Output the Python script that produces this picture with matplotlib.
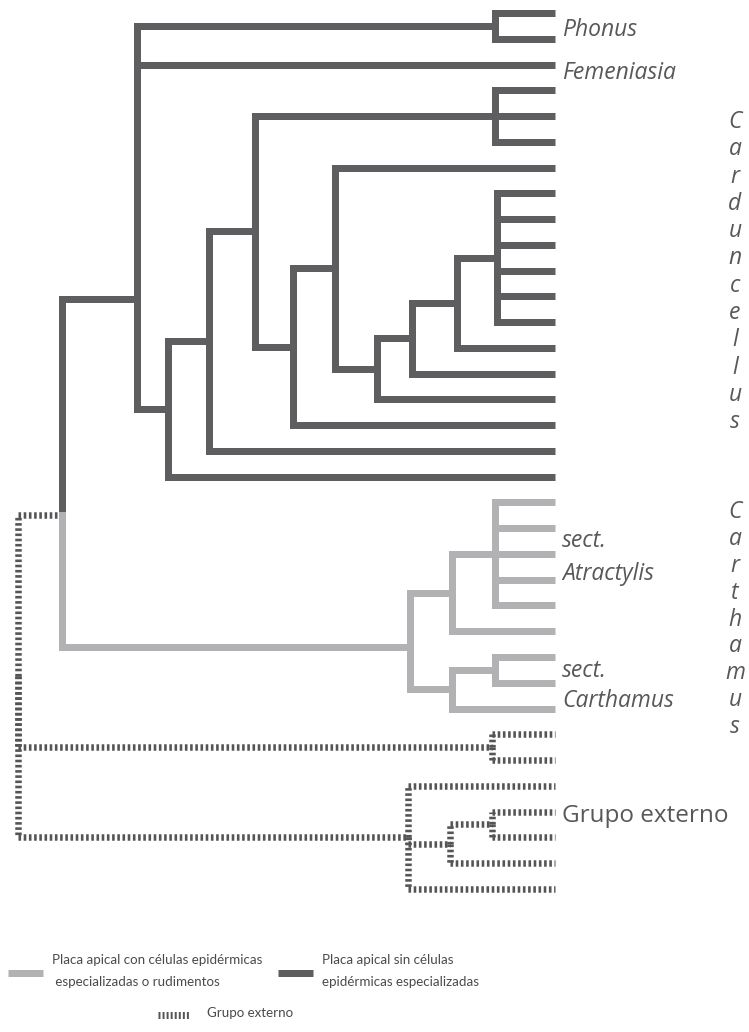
import matplotlib.pyplot as plt

W, H = 749, 1032
TOP, STEP = 13, 25.76          # pixel row of tip 0 and row spacing
TIP_X = 555                    # all tips end here

# internal nodes: name -> (depth from the left edge, children)
# a child is a tip index (int) or another node (str)
nodes = {
    'root': (18, ['R', 'S', 'T']),
    'R': (62, ['A', 'M']),
    # Phonus + Femeniasia + Carduncellus
    'A': (137, ['Ph', 2, 'B']),
    'Ph': (495, [0, 1]),
    'B': (168, ['C', 18]),
    'C': (209, ['D', 17]),
    'D': (255, ['E', 'F']),
    'E': (495, [3, 4, 5]),
    'F': (293, ['H', 16]),
    'H': (335, [6, 'I']),
    'I': (377, ['J', 15]),
    'J': (412, ['K', 14]),
    'K': (457, ['L', 13]),
    'L': (497, [7, 8, 9, 10, 11, 12]),
    # Carthamus
    'M': (410, ['N', 'O']),
    'N': (452, ['P', 24]),
    'P': (495, [19, 20, 21, 22, 23]),
    'O': (452, ['Q', 27]),
    'Q': (495, [25, 26]),
    # outgroup
    'S': (492, [28, 29]),
    'T': (408, [30, 'U', 34]),
    'U': (450, ['V', 33]),
    'V': (492, [31, 32]),
}
# nodes whose stem does not leave from the middle of their span
join_y = {'R': 19.5, 'A': 11.1, 'M': 24.6}

dark_tips = range(0, 19)
light_tips = range(19, 28)
out_tips = range(28, 35)
light_nodes = ['M', 'N', 'O', 'P', 'Q']
out_nodes = ['R', 'S', 'T', 'U', 'V']

# tip labels: (text, baseline in tip rows, italic)
labels = [
    ('Phonus', 0.89, True),
    ('Femeniasia', 2.56, True),
    ('sect.', 20.73, True),
    ('Atractylis', 22.0, True),
    ('sect.', 25.78, True),
    ('Carthamus', 26.94, True),
    ('Grupo externo', 31.4, False),
]
genus_labels = [('Carduncellus', 128, 27.3), ('Carthamus', 518, 26.9)]

legend_items = [
    ('light', 'Placa apical con células epidérmicas\n especializadas o rudimentos'),
    ('dark', 'Placa apical sin células\nepidérmicas especializadas'),
    ('out', 'Grupo externo'),
]

DARK = '#5e5e61'
LIGHT = '#b2b2b4'
OUT = '#555557'
TXT = '#58585a'
px = 72 / 100
styles = {
    'dark': dict(color=DARK, lw=7 * px, solid_capstyle='butt'),
    'light': dict(color=LIGHT, lw=7 * px, solid_capstyle='butt'),
    'out': dict(color=OUT, lw=6.5 * px, linestyle=(0, (0.4, 0.4)),
                dash_capstyle='butt'),
}


def group(n):
    if isinstance(n, int):
        if n in light_tips:
            return 'light'
        if n in out_tips:
            return 'out'
        return 'dark'
    if n in light_nodes:
        return 'light'
    if n in out_nodes:
        return 'out'
    return 'dark'


def ypos(n):
    if isinstance(n, int):
        return n
    if n in join_y:
        return join_y[n]
    ch = nodes[n][1]
    return (ypos(ch[0]) + ypos(ch[-1])) / 2


def xpos(n):
    return TIP_X if isinstance(n, int) else nodes[n][0]


fig = plt.figure(figsize=(W / 100, H / 100), dpi=100)
ax = fig.add_axes([0, 0, 1, 1])
ax.set_xlim(0, W)
ax.set_ylim((H - TOP) / STEP, -TOP / STEP)
ax.axis('off')

for name, (x0, children) in nodes.items():
    y0 = ypos(name)
    for c in children:
        st = dict(styles[group(c)])
        yc = ypos(c)
        # vertical part
        vst = dict(st)
        if 'linestyle' not in vst:
            vst['solid_capstyle'] = 'projecting'
        ax.plot([x0, x0], [y0, yc], **vst)
        ax.plot([x0, xpos(c)], [yc, yc], **st)

font = ['Open Sans', 'DejaVu Sans']
legfont = ['Lato', 'DejaVu Sans']
for text, y, it in labels:
    ax.text(562, y, text, fontsize=16.5 if it else 17.5, color=TXT,
            style='italic' if it else 'normal', family=font, va='baseline')

# overlay in pixel units for the stacked genus names and the legend
lax = fig.add_axes([0, 0, 1, 1])
lax.set_xlim(0, W)
lax.set_ylim(H, 0)
lax.axis('off')
lax.patch.set_alpha(0)

for word, base, step in genus_labels:
    for i, ch in enumerate(word):
        lax.text(735, base + i * step, ch, fontsize=16.5, color=TXT,
                 style='italic', family=font, ha='center', va='baseline')

leg_pos = {'light': (8, 43, 973, 52), 'dark': (278, 313, 973, 322),
           'out': (158, 190, 1015, 207)}
for key, text in legend_items:
    x1, x2, y, tx = leg_pos[key]
    st = dict(styles[key])
    if key == 'out':
        st['lw'] = 7 * px
        st['linestyle'] = (0, (0.28, 0.3))
    lax.plot([x1, x2], [y, y], **st)
    lax.text(tx, y - 2, text, fontsize=9.6, color='#4a4a4c', family=legfont,
             va='center', linespacing=1.9)

fig.savefig('out.png', dpi=100)
